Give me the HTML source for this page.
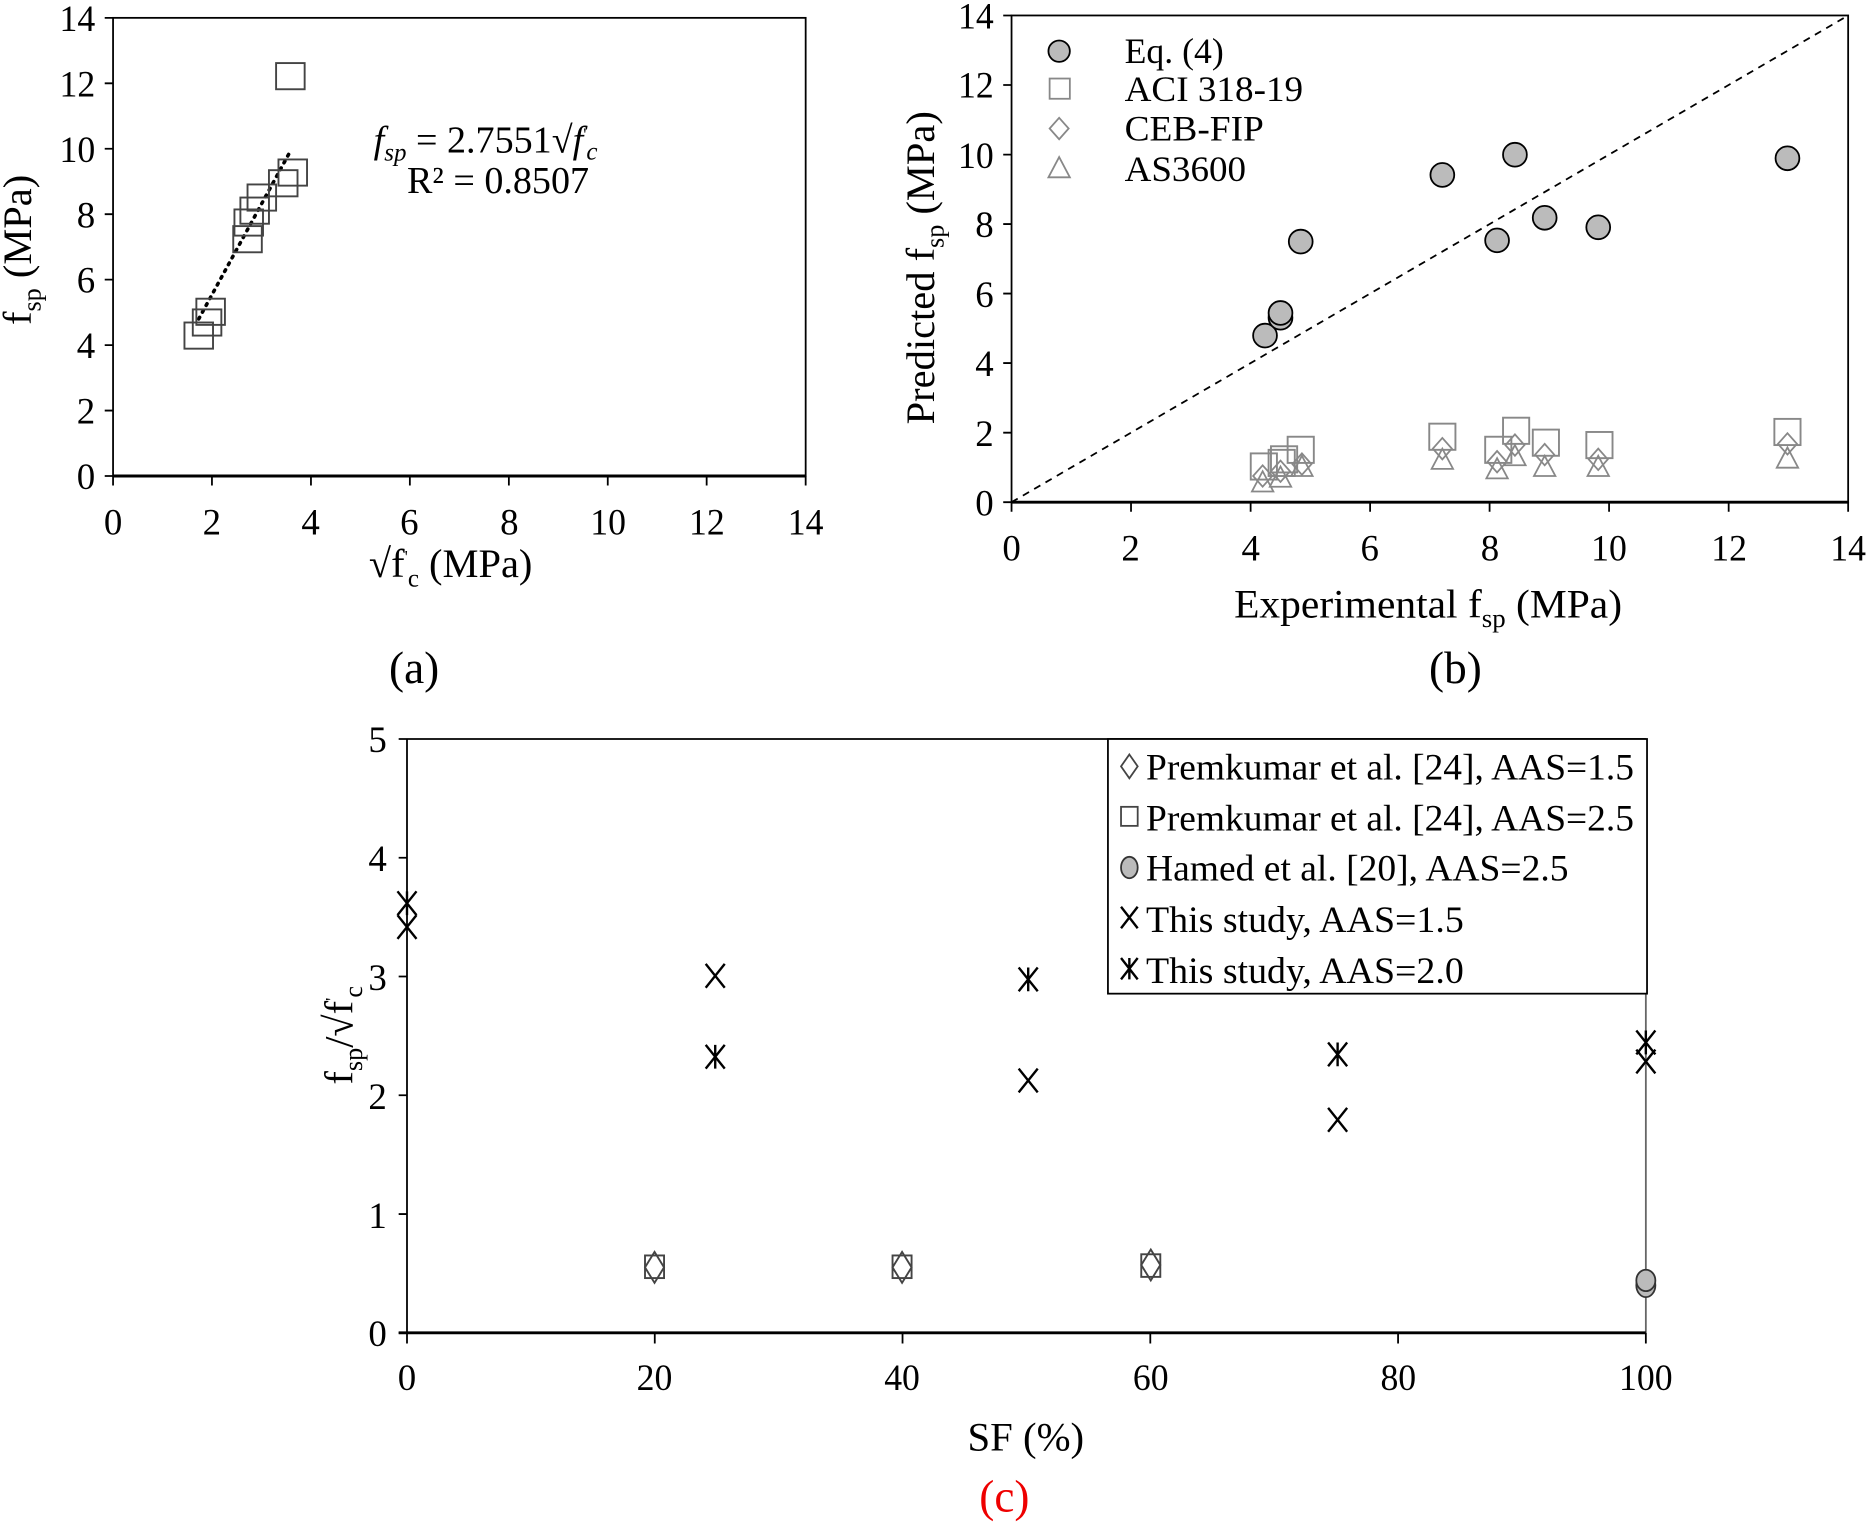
<!DOCTYPE html>
<html><head><meta charset="utf-8"><style>
html,body{margin:0;padding:0;background:#fff}
svg{display:block}
text{font-family:"Liberation Serif","Times New Roman",Times,serif;fill:#000}
</style></head><body>
<svg width="1866" height="1525" viewBox="0 0 1568 1281.5" preserveAspectRatio="none" xmlns="http://www.w3.org/2000/svg">
<rect width="1568" height="1282" fill="#fff"/>

<!-- ===== (a) ===== -->
<g stroke="#000" stroke-width="1.5" fill="none">
<rect x="95" y="15" width="582" height="385"/>
<line x1="95" y1="400" x2="677" y2="400" stroke-width="2.5"/>
<path d="M95 400v8M178.1 400v8M261.3 400v8M344.4 400v8M427.6 400v8M510.7 400v8M593.8 400v8M677 400v8"/>
<path d="M88 400h7M88 345h7M88 290h7M88 235h7M88 180h7M88 125h7M88 70h7M88 15h7"/>
</g>
<g font-size="31" text-anchor="end">
<text x="80" y="411">0</text><text x="80" y="356">2</text><text x="80" y="301">4</text><text x="80" y="246">6</text><text x="80" y="191">8</text><text x="80" y="136" textLength="30" lengthAdjust="spacingAndGlyphs">10</text><text x="80" y="81" textLength="30" lengthAdjust="spacingAndGlyphs">12</text><text x="80" y="26" textLength="30" lengthAdjust="spacingAndGlyphs">14</text>
</g>
<g font-size="31" text-anchor="middle">
<text x="95" y="449">0</text><text x="178" y="449">2</text><text x="261" y="449">4</text><text x="344" y="449">6</text><text x="428" y="449">8</text><text x="511" y="449" textLength="30" lengthAdjust="spacingAndGlyphs">10</text><text x="594" y="449" textLength="30" lengthAdjust="spacingAndGlyphs">12</text><text x="677" y="449" textLength="30" lengthAdjust="spacingAndGlyphs">14</text>
</g>
<text x="310" y="485" font-size="34">√f<tspan font-size="15" dy="-12">'</tspan><tspan font-size="21" dy="20">c</tspan><tspan dy="-8" font-size="34">  (MPa)</tspan></text>
<text transform="translate(26,210) rotate(-90)" font-size="34" text-anchor="middle">f<tspan font-size="22" dy="8">sp</tspan><tspan dy="-8"> (MPa)</tspan></text>
<text x="348" y="574" font-size="38" text-anchor="middle">(a)</text>
<text x="314" y="128" font-size="32"><tspan font-style="italic">f</tspan><tspan font-style="italic" font-size="21" dy="7">sp</tspan><tspan dy="-7"> = 2.7551√</tspan><tspan font-style="italic">f</tspan><tspan font-size="15" dy="-10">'</tspan><tspan font-style="italic" font-size="21" dy="16">c</tspan></text>
<text x="342" y="162" font-size="32">R² = 0.8507</text>
<line x1="167" y1="268" x2="244" y2="127" stroke="#000" stroke-width="3" stroke-dasharray="1.5 5" stroke-linecap="round"/>
<g fill="none" stroke="#444" stroke-width="1.6">
<rect x="232" y="53" width="24" height="22"/>
<rect x="234" y="134" width="24" height="22"/>
<rect x="226" y="143" width="24" height="22"/>
<rect x="208" y="155" width="24" height="22"/>
<rect x="202" y="166" width="24" height="22"/>
<rect x="197" y="176" width="24" height="22"/>
<rect x="196" y="190" width="24" height="22"/>
<rect x="165" y="251" width="24" height="22"/>
<rect x="162" y="260" width="24" height="22"/>
<rect x="155" y="271" width="24" height="22"/>
</g>

<!-- ===== (b) ===== -->
<g stroke="#000" stroke-width="1.5" fill="none">
<rect x="850" y="13" width="703" height="409"/>
<line x1="850" y1="422" x2="1553" y2="422" stroke-width="2.5"/>
<path d="M850 422v8M950.4 422v8M1050.9 422v8M1151.3 422v8M1251.7 422v8M1352.1 422v8M1452.6 422v8M1553 422v8"/>
<path d="M843 422h7M843 363.6h7M843 305.1h7M843 246.7h7M843 188.3h7M843 129.9h7M843 71.4h7M843 13h7"/>
<line x1="850" y1="422" x2="1553" y2="13" stroke-dasharray="6 5"/>
</g>
<g font-size="31" text-anchor="end">
<text x="835" y="433">0</text><text x="835" y="375">2</text><text x="835" y="316">4</text><text x="835" y="258">6</text><text x="835" y="199">8</text><text x="835" y="141" textLength="30" lengthAdjust="spacingAndGlyphs">10</text><text x="835" y="82" textLength="30" lengthAdjust="spacingAndGlyphs">12</text><text x="835" y="24" textLength="30" lengthAdjust="spacingAndGlyphs">14</text>
</g>
<g font-size="31" text-anchor="middle">
<text x="850" y="471">0</text><text x="950" y="471">2</text><text x="1051" y="471">4</text><text x="1151" y="471">6</text><text x="1252" y="471">8</text><text x="1352" y="471" textLength="30" lengthAdjust="spacingAndGlyphs">10</text><text x="1453" y="471" textLength="30" lengthAdjust="spacingAndGlyphs">12</text><text x="1553" y="471" textLength="30" lengthAdjust="spacingAndGlyphs">14</text>
</g>
<text x="1037" y="519" font-size="34" textLength="326" lengthAdjust="spacingAndGlyphs">Experimental f<tspan font-size="22" dy="8">sp</tspan><tspan dy="-8"> (MPa)</tspan></text>
<text transform="translate(785,225) rotate(-90)" font-size="34" text-anchor="middle">Predicted f<tspan font-size="22" dy="8">sp</tspan><tspan dy="-8"> (MPa)</tspan></text>
<text x="1223" y="574" font-size="38" text-anchor="middle">(b)</text>
<!-- legend b -->
<circle cx="890" cy="43" r="9" fill="#bbb" stroke="#000" stroke-width="1.5"/>
<rect x="882" y="66" width="17" height="17" fill="none" stroke="#888" stroke-width="1.5"/>
<path d="M890 99l8 9-8 9-8-9z" fill="none" stroke="#888" stroke-width="1.5"/>
<path d="M890 132l9 17h-18z" fill="none" stroke="#888" stroke-width="1.5"/>
<g font-size="30"><text x="945" y="53">Eq. (4)</text><text x="945" y="85" textLength="150" lengthAdjust="spacingAndGlyphs">ACI 318-19</text><text x="945" y="118" textLength="117" lengthAdjust="spacingAndGlyphs">CEB-FIP</text><text x="945" y="152" textLength="102" lengthAdjust="spacingAndGlyphs">AS3600</text></g>
<!-- squares -->
<g fill="none" stroke="#888" stroke-width="1.6">
<rect x="1051" y="381" width="22" height="22"/><rect x="1066" y="378" width="22" height="22"/><rect x="1068" y="375" width="22" height="22"/><rect x="1082" y="367" width="22" height="22"/><rect x="1201" y="356" width="22" height="22"/><rect x="1248" y="367" width="22" height="22"/><rect x="1263" y="351" width="22" height="22"/><rect x="1288" y="361" width="22" height="22"/><rect x="1333" y="363" width="22" height="22"/><rect x="1491" y="352" width="22" height="22"/>
</g>
<g fill="none" stroke="#888" stroke-width="1.5">
<path d="M1061 391l8 9-8 9-8-9zM1076 387l8 9-8 9-8-9zM1094 381l8 9-8 9-8-9zM1212 368l8 9-8 9-8-9zM1258 379l8 9-8 9-8-9zM1273 365l8 9-8 9-8-9zM1298 373l8 9-8 9-8-9zM1343 377l8 9-8 9-8-9zM1502 364l8 9-8 9-8-9z"/>
<path d="M1061 396l9 17h-18zM1076 392l9 17h-18zM1094 383l9 17h-18zM1212 377l9 17h-18zM1258 385l9 17h-18zM1273 374l9 17h-18zM1298 383l9 17h-18zM1343 383l9 17h-18zM1502 376l9 17h-18z"/>
</g>
<g fill="#bbb" stroke="#000" stroke-width="1.5">
<circle cx="1063" cy="282" r="10"/><circle cx="1076" cy="267" r="10"/><circle cx="1076" cy="263" r="10"/><circle cx="1093" cy="203" r="10"/><circle cx="1212" cy="147" r="10"/><circle cx="1258" cy="202" r="10"/><circle cx="1273" cy="130" r="10"/><circle cx="1298" cy="183" r="10"/><circle cx="1343" cy="191" r="10"/><circle cx="1502" cy="133" r="10"/>
</g>

<!-- ===== (c) ===== -->
<g stroke="#000" stroke-width="1.5" fill="none">
<line x1="342" y1="621" x2="1383" y2="621"/>
<line x1="342" y1="621" x2="342" y2="1120"/>
<line x1="1383" y1="621" x2="1383" y2="1120" stroke="#666"/>
<line x1="335" y1="1120" x2="1383" y2="1120" stroke-width="2.5"/>
<path d="M342 1120v9M550.2 1120v9M758.4 1120v9M966.6 1120v9M1174.8 1120v9M1383 1120v9"/>
<path d="M335 1120h7M335 1020.2h7M335 920.4h7M335 820.6h7M335 720.8h7M335 621h7"/>
</g>
<g font-size="31" text-anchor="end">
<text x="325" y="1131">0</text><text x="325" y="1032">1</text><text x="325" y="932">2</text><text x="325" y="832">3</text><text x="325" y="732">4</text><text x="325" y="632">5</text>
</g>
<g font-size="31" text-anchor="middle">
<text x="342" y="1168">0</text><text x="550" y="1168" textLength="30" lengthAdjust="spacingAndGlyphs">20</text><text x="758" y="1168" textLength="30" lengthAdjust="spacingAndGlyphs">40</text><text x="967" y="1168" textLength="30" lengthAdjust="spacingAndGlyphs">60</text><text x="1175" y="1168" textLength="30" lengthAdjust="spacingAndGlyphs">80</text><text x="1383" y="1168" textLength="45" lengthAdjust="spacingAndGlyphs">100</text>
</g>
<text x="862" y="1219" font-size="34" text-anchor="middle" textLength="98" lengthAdjust="spacingAndGlyphs">SF (%)</text>
<text x="844" y="1270" font-size="38" text-anchor="middle" style="fill:#e00">(c)</text>
<text transform="translate(296,870) rotate(-90)" font-size="34" text-anchor="middle">f<tspan font-size="22" dy="8">sp</tspan><tspan dy="-8">/√f</tspan><tspan font-size="15" dy="-12">'</tspan><tspan font-size="22" dy="20">c</tspan></text>
<rect x="931" y="621" width="453" height="214" fill="#fff" stroke="#000" stroke-width="1.5"/>
<path d="M949 634l7 10-7 10-7-10z" fill="none" stroke="#444" stroke-width="1.5"/>
<rect x="942" y="678" width="14" height="16" fill="none" stroke="#444" stroke-width="1.5"/>
<ellipse cx="949" cy="729" rx="7" ry="9" fill="#bbb" stroke="#333" stroke-width="1.5"/>
<path d="M942 762l14 18M956 762l-14 18" stroke="#000" stroke-width="2"/>
<path d="M942 805l14 18M956 805l-14 18M949 805v18" stroke="#000" stroke-width="2"/>
<g font-size="31">
<text x="963" y="655" textLength="410" lengthAdjust="spacingAndGlyphs">Premkumar et al. [24], AAS=1.5</text>
<text x="963" y="698" textLength="410" lengthAdjust="spacingAndGlyphs">Premkumar et al. [24], AAS=2.5</text>
<text x="963" y="740" textLength="355" lengthAdjust="spacingAndGlyphs">Hamed et al. [20], AAS=2.5</text>
<text x="963" y="783" textLength="267" lengthAdjust="spacingAndGlyphs">This study, AAS=1.5</text>
<text x="963" y="826" textLength="267" lengthAdjust="spacingAndGlyphs">This study, AAS=2.0</text>
</g>
<g stroke="#000" stroke-width="2" fill="none">
<path d="M334 769l16 20M350 769l-16 20"/>
<path d="M593 810l16 20M609 810l-16 20"/>
<path d="M856 898l16 20M872 898l-16 20"/>
<path d="M1116 931l16 20M1132 931l-16 20"/>
<path d="M1375 882l16 20M1391 882l-16 20"/>
<path d="M334 749l16 20M350 749l-16 20M342 749v20"/>
<path d="M593 878l16 20M609 878l-16 20M601 878v20"/>
<path d="M856 813l16 20M872 813l-16 20M864 813v20"/>
<path d="M1116 876l16 20M1132 876l-16 20M1124 876v20"/>
<path d="M1375 866l16 20M1391 866l-16 20M1383 866v20"/>
</g>
<g fill="none" stroke="#444" stroke-width="1.6">
<rect x="542" y="1055" width="16" height="19"/><rect x="750" y="1055" width="16" height="19"/><rect x="959" y="1054" width="16" height="19"/>
<path d="M550 1052l8 13-8 13-8-13zM758 1052l8 13-8 13-8-13zM967 1050l8 13-8 13-8-13z"/>
</g>
<ellipse cx="1383" cy="1080" rx="8" ry="10" fill="#bbb" stroke="#333" stroke-width="1.5"/>
<ellipse cx="1383" cy="1076" rx="8" ry="9" fill="#bbb" stroke="#333" stroke-width="1.5"/>
</svg>
</body></html>
